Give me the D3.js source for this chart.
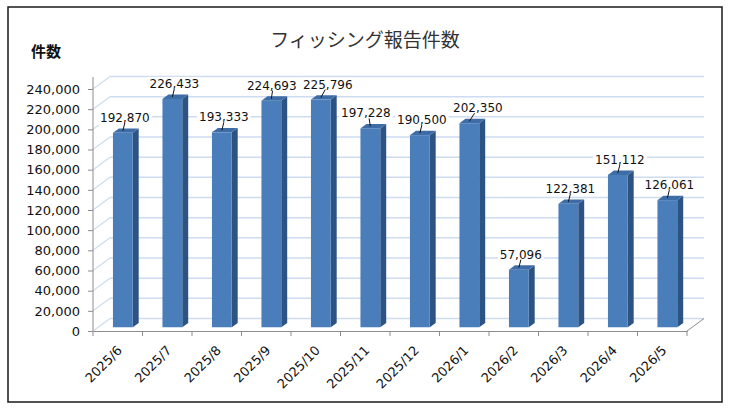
<!DOCTYPE html>
<html>
<head>
<meta charset="utf-8">
<script src="https://cdn.jsdelivr.net/npm/d3@7"></script>
<style>
  body { margin: 0; background: #fff; }
  text { font-family: "DejaVu Sans", "Noto Sans CJK JP", sans-serif; }
</style>
</head>
<body>
<svg width="731" height="411"></svg>
<script>
  const titleText = 'フィッシング報告件数';
  const yAxisLabelText = '件数';

  const months = ['2025/6', '2025/7', '2025/8', '2025/9', '2025/10', '2025/11',
    '2025/12', '2026/1', '2026/2', '2026/3', '2026/4', '2026/5'];
  const reports = [192870, 226433, 193333, 224693, 225796, 197228,
    190500, 202350, 57096, 122381, 151112, 126061];
  const yTicks = [0, 20000, 40000, 60000, 80000, 100000, 120000,
    140000, 160000, 180000, 200000, 220000, 240000];

  const data = months.map((m, i) => ({ month: m, value: reports[i] }));

  const svg = d3.select('svg');

  // outer frame
  svg.append('rect')
    .attr('x', 8).attr('y', 7)
    .attr('width', 714).attr('height', 395)
    .attr('fill', '#fff')
    .attr('stroke', '#1a1a1a')
    .attr('stroke-width', 1.5);

  const xScale = d3.scaleBand()
    .domain(months)
    .range([93, 687])
    .padding(0);

  const yScale = d3.scaleLinear()
    .domain([0, 240000])
    .range([331, 89]);

  // 3d depth of the plot box
  const depthX = 17, depthY = -12.5;
  const gridColor = '#cddcf0';
  const axisColor = '#8c8c8c';

  const grid = svg.append('g');

  // side wall + back wall gridlines
  yTicks.forEach(t => {
    const y = yScale(t);
    grid.append('line')
      .attr('x1', 93).attr('y1', y)
      .attr('x2', 93 + depthX).attr('y2', y + depthY)
      .attr('stroke', gridColor).attr('stroke-width', 1.2);
    grid.append('line')
      .attr('x1', 93 + depthX).attr('y1', y + depthY)
      .attr('x2', 687 + depthX).attr('y2', y + depthY)
      .attr('stroke', gridColor).attr('stroke-width', 1.5);
  });

  // floor
  grid.append('line')
    .attr('x1', 687).attr('y1', 331)
    .attr('x2', 687 + depthX).attr('y2', 331 + depthY)
    .attr('stroke', axisColor);

  // bars
  const barW = xScale.bandwidth() * 0.4;
  const d0 = 0.3, d1 = 0.65;
  const sideX = (d1 - d0) * depthX, sideY = (d1 - d0) * depthY;
  const fx = d => xScale(d.month) + (xScale.bandwidth() - barW) / 2 + d0 * depthX;
  const fy = v => yScale(v) + d0 * depthY;

  const bars = svg.append('g').selectAll('g').data(data).enter().append('g');

  bars.append('polygon')
    .attr('points', d => {
      const x = fx(d) + barW, yt = fy(d.value), yb = fy(0);
      return [[x, yt], [x + sideX, yt + sideY], [x + sideX, yb + sideY], [x, yb]].join(' ');
    })
    .attr('fill', '#2d5383');

  bars.append('polygon')
    .attr('points', d => {
      const x = fx(d), yt = fy(d.value);
      return [[x, yt], [x + sideX, yt + sideY], [x + barW + sideX, yt + sideY], [x + barW, yt]].join(' ');
    })
    .attr('fill', '#3e6ca6');

  bars.append('rect')
    .attr('x', fx)
    .attr('y', d => fy(d.value))
    .attr('width', barW)
    .attr('height', d => fy(0) - fy(d.value))
    .attr('fill', '#4a7ebb');

  // y axis
  const yAxisG = svg.append('g')
    .attr('transform', 'translate(93,0)')
    .call(d3.axisLeft(yScale).tickValues(yTicks).tickSize(5).tickSizeOuter(0)
      .tickFormat(d3.format(',')));
  yAxisG.select('.domain').attr('d', 'M0,77V331').attr('stroke', axisColor);
  yAxisG.selectAll('.tick line').attr('stroke', axisColor);
  yAxisG.selectAll('.tick text')
    .attr('x', -13)
    .attr('font-size', 13)
    .attr('font-family', '"DejaVu Sans", sans-serif')
    .attr('fill', '#111');

  // x axis
  const xAxisG = svg.append('g')
    .attr('transform', 'translate(0,331)')
    .call(d3.axisBottom(xScale).tickSize(0).tickSizeOuter(0));
  xAxisG.select('.domain').attr('stroke', axisColor);
  xAxisG.selectAll('.tick text')
    .attr('font-size', 13)
    .attr('font-family', '"DejaVu Sans", sans-serif')
    .attr('fill', '#111')
    .attr('text-anchor', 'end')
    .attr('transform', 'translate(2,17) rotate(-45)')
    .attr('y', 0).attr('dy', '0.35em');
  // tick marks at category borders
  xAxisG.selectAll('.border')
    .data(months.concat(['end']))
    .enter().append('line')
    .attr('x1', (d, i) => 93 + i * xScale.bandwidth())
    .attr('x2', (d, i) => 93 + i * xScale.bandwidth())
    .attr('y1', 0).attr('y2', 5)
    .attr('stroke', axisColor);

  // data labels: place above bar, then push apart neighbours that collide
  const fmt = d3.format(',');
  const labelW = 52;
  const lab = data.map(d => ({
    d: d,
    anchor: fx(d) + barW / 2 + 2,
    cx: fx(d) + barW / 2 + 2,
    top: fy(d.value),
    base: fy(d.value) - 11
  }));
  for (let it = 0; it < 20; it++) {
    for (let i = 1; i < lab.length; i++) {
      const a = lab[i - 1], b = lab[i];
      if (Math.abs(a.base - b.base) > 14) continue;
      const overlap = labelW + 4 - (b.cx - a.cx);
      if (overlap > 0) {
        if (a.base > b.base) { a.cx -= overlap * 0.25; b.cx += overlap * 0.75; }
        else if (a.base < b.base) { a.cx -= overlap * 0.75; b.cx += overlap * 0.25; }
        else { a.cx -= overlap / 2; b.cx += overlap / 2; }
      }
    }
  }

  const labels = svg.append('g').selectAll('g').data(lab).enter().append('g');
  labels.each(function (l) {
    const g = d3.select(this);
    const txt = g.append('text')
      .attr('x', l.cx).attr('y', l.base)
      .attr('text-anchor', 'middle')
      .attr('font-size', 12)
      .attr('fill', '#111')
      .text(fmt(l.d.value));
    const bb = txt.node().getBBox();
    g.insert('rect', 'text')
      .attr('x', bb.x - 2).attr('y', bb.y)
      .attr('width', bb.width + 4).attr('height', bb.height)
      .attr('fill', '#fff');
    g.append('line')
      .attr('x1', l.anchor - 2).attr('y1', l.top - 2)
      .attr('x2', (l.anchor + l.cx) / 2).attr('y2', l.base + 1)
      .attr('stroke', '#111').attr('stroke-width', 1);
  });

  // titles
  svg.append('text')
    .attr('x', 365).attr('y', 47)
    .attr('text-anchor', 'middle')
    .attr('font-family', '"Noto Sans CJK JP", sans-serif')
    .attr('font-size', 19)
    .attr('fill', '#333')
    .text(titleText);

  svg.append('text')
    .attr('x', 31).attr('y', 57)
    .attr('font-family', '"Noto Sans CJK JP", sans-serif')
    .attr('font-size', 15)
    .attr('font-weight', 'bold')
    .attr('fill', '#111')
    .text(yAxisLabelText);
</script>
</body>
</html>
